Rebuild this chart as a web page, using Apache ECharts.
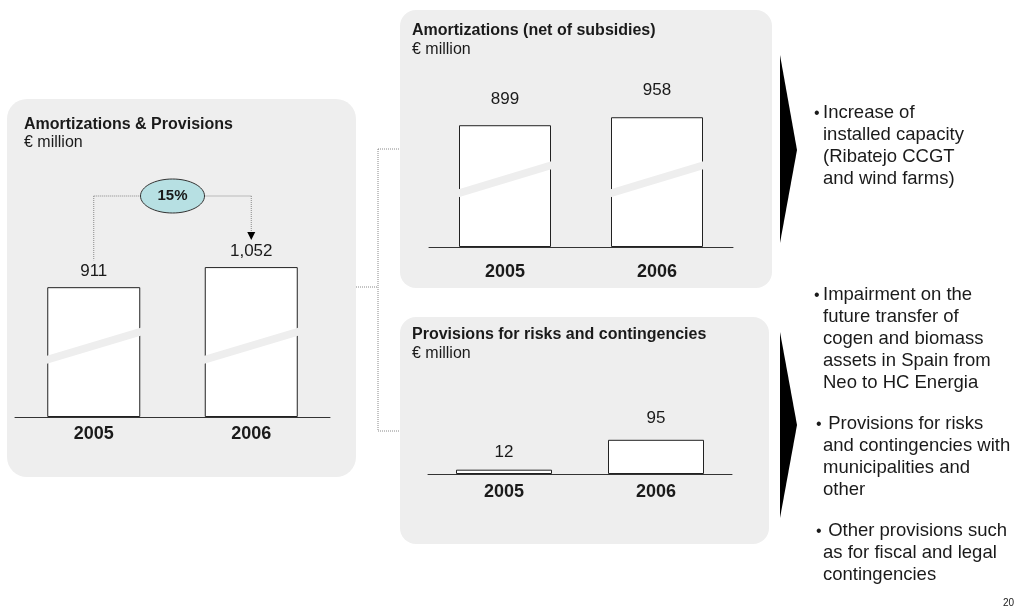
<!DOCTYPE html>
<html><head><meta charset="utf-8">
<script src="https://cdn.jsdelivr.net/npm/echarts@6/dist/echarts.min.js"></script>
<style>html,body{margin:0;padding:0;background:#fff}#c{width:1016px;height:613px}</style>
</head><body><div id="c"></div>
<script>
// ---- data ----
const years = ['2005', '2006'];
const totalValues = [911, 1052];          // Amortizations & Provisions
const amortValues = [899, 958];           // Amortizations (net of subsidies)
const provisionValues = [12, 95];         // Provisions for risks and contingencies
const growthLabel = '15%';
const breakValue = 500;                   // where the axis-break band crosses the tall bars
const titles = ['Amortizations & Provisions', 'Amortizations (net of subsidies)', 'Provisions for risks and contingencies'];
const unitLabel = '€ million';
const bulletTop = ['Increase of', 'installed capacity', '(Ribatejo CCGT', 'and wind farms)'];
const bulletBottom1 = ['Impairment on the', 'future transfer of', 'cogen and biomass', 'assets in Spain from', 'Neo to HC Energia'];
const bulletBottom2 = [' Provisions for risks', 'and contingencies with', 'municipalities and', 'other'];
const bulletBottom3 = [' Other provisions such', 'as for fiscal and legal', 'contingencies'];
const pageNumber = '20';

const FONT = "'Liberation Sans', Arial, Helvetica, sans-serif";
const BG = '#eeeeee';
const INK = '#1a1a1a';

const chart = echarts.init(document.getElementById('c'), null, {renderer: 'canvas'});

function xAxisFor(i, margin) {
  return {
    type: 'category', gridIndex: i, data: years,
    axisTick: {show: false},
    axisLine: {lineStyle: {color: '#333', width: 1}},
    axisLabel: {margin: margin, fontFamily: FONT, fontSize: 18, fontWeight: 'bold', color: INK}
  };
}
function yAxisFor(i, max) {
  return {type: 'value', gridIndex: i, min: 0, max: max, show: false, splitLine: {show: false}};
}
function barSeries(i, values, width, distances) {
  return {
    type: 'bar', xAxisIndex: i, yAxisIndex: i, barWidth: width,
    data: values.map((v, k) => ({
      value: v,
      label: {distance: distances[k]}
    })),
    itemStyle: {color: '#fff', borderColor: '#222', borderWidth: 1},
    label: {
      show: true, position: 'top', fontFamily: FONT, fontSize: 17, color: INK,
      formatter: p => p.value.toLocaleString('en-US')
    },
    emphasis: {disabled: true},
    z: 2
  };
}
function breakSeries(i, width) {
  return {
    type: 'custom', xAxisIndex: i, yAxisIndex: i, z: 5, silent: true,
    data: years.map(y => [y, breakValue]),
    renderItem: function (params, api) {
      const c = api.coord([api.value(0), api.value(1)]);
      const x0 = c[0] - width / 2 - 2, x1 = c[0] + width / 2 + 2;
      const y = c[1], h = 4, s = 14.5;
      return {
        type: 'polygon',
        shape: {points: [[x0, y + s - h], [x1, y - s - h], [x1, y - s + h], [x0, y + s + h]]},
        style: {fill: BG}
      };
    }
  };
}

chart.setOption({
  animation: false,
  grid: [
    {left: 15, width: 315, top: 246, height: 171},
    {left: 429, width: 304, top: 98, height: 149},
    {left: 428, width: 304, top: 438, height: 36}
  ],
  xAxis: [xAxisFor(0, 8), xAxisFor(1, 16), xAxisFor(2, 9)],
  yAxis: [yAxisFor(0, 1200), yAxisFor(1, 1100), yAxisFor(2, 100)],
  series: [
    barSeries(0, totalValues, 93, [7, 7]),
    breakSeries(0, 93),
    barSeries(1, amortValues, 92, [17, 18]),
    breakSeries(1, 92),
    barSeries(2, provisionValues, 96, [9, 13])
  ]
});

// ---- annotation positions from the chart's own scales ----
const p1 = chart.convertToPixel({xAxisIndex: 0, yAxisIndex: 0}, [years[0], totalValues[0]]);
const p2 = chart.convertToPixel({xAxisIndex: 0, yAxisIndex: 0}, [years[1], totalValues[1]]);
const yLink = 196, rx = 32, ry = 17;
const cx = (p1[0] + p2[0]) / 2;
const dotted = {stroke: '#888', lineWidth: 1, lineDash: [1, 1]};

function txt(x, y, text, size, bold, align) {
  return {
    type: 'text', z: 20, silent: true,
    style: {x: x, y: y, text: text, fill: INK, font: (bold ? 'bold ' : '') + size + 'px ' + FONT,
            textAlign: align || 'left', verticalAlign: 'middle'}
  };
}
function block(x, yFirst, lines, bulletX) {
  return [
    {
      type: 'text', z: 20, silent: true,
      style: {x: x, y: yFirst - 11, text: lines.join('\n'), fill: INK, font: '18.5px ' + FONT,
              lineHeight: 22, textAlign: 'left', verticalAlign: 'top'}
    },
    txt(bulletX, yFirst + 1, '•', 16, false)
  ];
}
function line(x1, y1, x2, y2, style) {
  return {type: 'line', z: 15, silent: true, shape: {x1: x1, y1: y1, x2: x2, y2: y2}, style: style};
}

const graphics = [
  // panels
  {type: 'rect', z: -10, silent: true, shape: {x: 7, y: 99, width: 349, height: 378, r: 20}, style: {fill: BG}},
  {type: 'rect', z: -10, silent: true, shape: {x: 400, y: 10, width: 372, height: 278, r: 16}, style: {fill: BG}},
  {type: 'rect', z: -10, silent: true, shape: {x: 400, y: 317, width: 369, height: 227, r: 16}, style: {fill: BG}},
  // connectors
  line(356, 287, 378, 287, dotted),
  line(378, 149, 378, 431, dotted),
  line(378, 149, 400, 149, dotted),
  line(378, 431, 400, 431, dotted),
  // chevrons
  {type: 'polygon', z: 10, silent: true, shape: {points: [[780, 55], [797, 150], [780, 243]]}, style: {fill: '#000'}},
  {type: 'polygon', z: 10, silent: true, shape: {points: [[780, 332], [797, 425], [780, 518]]}, style: {fill: '#000'}},
  // titles
  txt(24, 125, titles[0], 16, true),
  txt(24, 143, unitLabel, 16, false),
  txt(412, 31, titles[1], 16, true),
  txt(412, 50, unitLabel, 16, false),
  txt(412, 335, titles[2], 16, true),
  txt(412, 354, unitLabel, 16, false),
  // growth annotation
  line(p1[0], yLink, p1[0], p1[1] - 27, dotted),
  line(p1[0], yLink, cx - rx, yLink, dotted),
  line(cx + rx, yLink, p2[0], yLink, dotted),
  line(p2[0], yLink, p2[0], p2[1] - 35, dotted),
  {type: 'polygon', z: 16, silent: true,
   shape: {points: [[p2[0] - 4, p2[1] - 35], [p2[0] + 4, p2[1] - 35], [p2[0], p2[1] - 27]]}, style: {fill: '#000'}},
  {type: 'ellipse', z: 16, silent: true, shape: {cx: cx, cy: yLink, rx: rx, ry: ry},
   style: {fill: '#b7e0e3', stroke: '#333', lineWidth: 1}},
  txt(cx, yLink, growthLabel, 15, true, 'center'),
  // page number
  txt(1003, 603, pageNumber, 10, false)
];

graphics.push(...block(823, 113, bulletTop, 814));
graphics.push(...block(823, 295, bulletBottom1, 814));
graphics.push(...block(823, 424, bulletBottom2, 816));
graphics.push(...block(823, 531, bulletBottom3, 816));

chart.setOption({graphic: graphics});
</script>
</body></html>
